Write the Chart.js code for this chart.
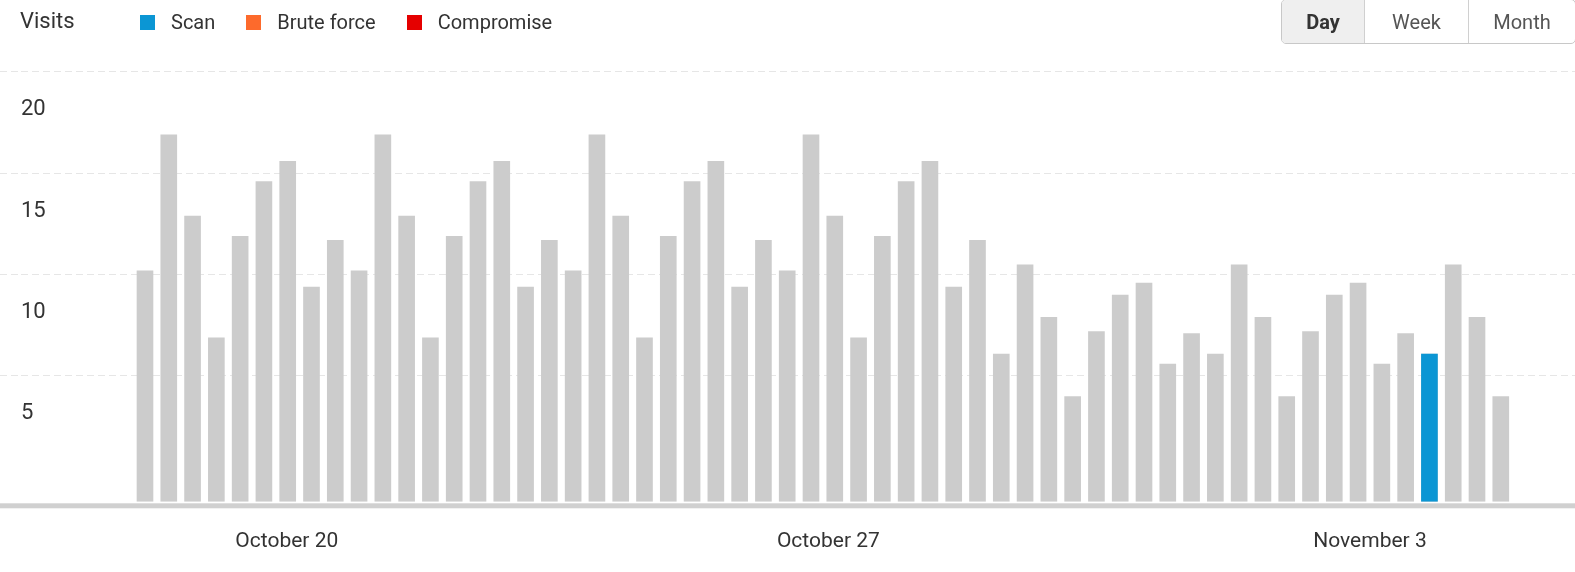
<!DOCTYPE html>
<html>
<head>
<meta charset="utf-8">
<title>Visits</title>
<script src="https://cdn.jsdelivr.net/npm/chart.js@4.4.0/dist/chart.umd.min.js"></script>
<style>
  body { margin: 0; background: #fff; font-family: Roboto, sans-serif; }
  #wrap { position: relative; width: 1575px; height: 572px; overflow: hidden; }
  #visitsChart { position: absolute; left: 0; top: 0; }
  .title { position: absolute; left: 20px; top: 10px; font-size: 22px; line-height: 22px; color: #333; }
  .legend { position: absolute; left: 140px; top: 12px; display: flex; align-items: center; font-size: 20px; line-height: 20px; color: #333; }
  .legend .item { display: flex; align-items: center; margin-right: 31px; }
  .legend .box { display: inline-block; width: 15px; height: 15px; margin-right: 16px; }
  .buttons { position: absolute; left: 1281px; top: -1px; height: 43px; display: flex; border: 1px solid #c8c8c8; border-radius: 5px; overflow: hidden; font-size: 20px; }
  .buttons div { display: flex; align-items: center; justify-content: center; color: #555; border-left: 1px solid #d0d0d0; }
  .buttons div.active { border-left: none; background: #efefef; color: #333; font-weight: bold; }
</style>
</head>
<body>
<div id="wrap">
  <canvas id="visitsChart" width="1575" height="572"></canvas>
  <div class="title">Visits</div>
  <div class="legend" id="legend"></div>
  <div class="buttons">
    <div class="active" style="width:82px">Day</div>
    <div style="width:103px">Week</div>
    <div style="width:106px">Month</div>
  </div>
</div>
<script>
// visits per bar (grey)
const visits = [
  10.2, 16.9, 12.9, 6.9, 11.9, 14.6, 15.6, 9.4, 11.7,
  10.2, 16.9, 12.9, 6.9, 11.9, 14.6, 15.6, 9.4, 11.7,
  10.2, 16.9, 12.9, 6.9, 11.9, 14.6, 15.6, 9.4, 11.7,
  10.2, 16.9, 12.9, 6.9, 11.9, 14.6, 15.6, 9.4, 11.7,
  6.1, 10.5, 7.9, 4.0, 7.2, 9.0, 9.6, 5.6, 7.1,
  6.1, 10.5, 7.9, 4.0, 7.2, 9.0, 9.6, 5.6, 7.1,
  6.1, 10.5, 7.9, 4.0
];

// scan visits, only one bar has them
const scan = [
  null, null, null, null, null, null, null, null, null,
  null, null, null, null, null, null, null, null, null,
  null, null, null, null, null, null, null, null, null,
  null, null, null, null, null, null, null, null, null,
  null, null, null, null, null, null, null, null, null,
  null, null, null, null, null, null, null, null, null,
  6.1, null, null, null
];

const seriesNames = ['Scan', 'Brute force', 'Compromise'];
const seriesColors = ['#0b96d4', '#fd6a2c', '#e50000'];

const yTicks = [5, 10, 15, 20];
const dayTicks = [0, 7, 14];
const dayLabels = ['October 20', 'October 27', 'November 3'];

const yMin = -1.2;

// legend
const legend = document.getElementById('legend');
seriesNames.forEach((name, i) => {
  const item = document.createElement('div');
  item.className = 'item';
  item.innerHTML = '<span class="box" style="background:' + seriesColors[i] + '"></span>' + name;
  legend.appendChild(item);
});

function toPoints(arr) {
  return arr.map((v, i) => ({ x: i, y: v }));
}

// thick grey line under the bars
const baseline = {
  id: 'baseline',
  afterDraw(chart) {
    const c = chart.ctx;
    c.save();
    c.fillStyle = '#d0d0d0';
    c.fillRect(0, chart.chartArea.bottom + 1.6, chart.width, 5);
    c.restore();
  }
};

new Chart(document.getElementById('visitsChart'), {
  type: 'bar',
  data: {
    datasets: [
      {
        label: 'Scan',
        data: toPoints(scan),
        xAxisID: 'x',
        backgroundColor: seriesColors[0],
        grouped: false,
        base: yMin,
        barPercentage: 0.7,
        categoryPercentage: 1
      },
      {
        label: 'Visits',
        data: toPoints(visits),
        xAxisID: 'x',
        backgroundColor: '#cccccc',
        grouped: false,
        base: yMin,
        barPercentage: 0.7,
        categoryPercentage: 1
      }
    ]
  },
  options: {
    responsive: false,
    animation: false,
    events: [],
    layout: { padding: { top: 71.7, left: 0, right: 0, bottom: 0 } },
    plugins: {
      legend: { display: false },
      tooltip: { enabled: false }
    },
    scales: {
      x: {
        type: 'linear',
        display: false,
        offset: false,
        min: -5.213,
        max: 60.12
      },
      days: {
        type: 'linear',
        position: 'bottom',
        offset: false,
        min: -3.435,
        max: 16.65,
        grid: { display: false, offset: false },
        border: { display: false },
        afterBuildTicks: axis => { axis.ticks = dayTicks.map(v => ({ value: v })); },
        afterFit: axis => { axis.height = 70.3; },
        ticks: {
          autoSkip: false,
          maxRotation: 0,
          padding: 19,
          color: '#333',
          font: { family: 'Roboto', size: 21 },
          callback: v => dayLabels[dayTicks.indexOf(v)]
        }
      },
      y: {
        min: yMin,
        max: 20,
        afterBuildTicks: axis => { axis.ticks = yTicks.map(v => ({ value: v })); },
        grid: {
          color: '#e6e6e6',
          lineWidth: 1,
          tickColor: '#e6e6e6',
          tickBorderDash: [7, 4],
          drawTicks: true,
          tickLength: 21
        },
        border: { display: false, dash: [7, 4] },
        ticks: {
          mirror: true,
          padding: 0,
          labelOffset: 38,
          color: '#333',
          font: { family: 'Roboto', size: 22 },
          callback: v => String(v)
        }
      }
    }
  },
  plugins: [baseline]
});
</script>
</body>
</html>
